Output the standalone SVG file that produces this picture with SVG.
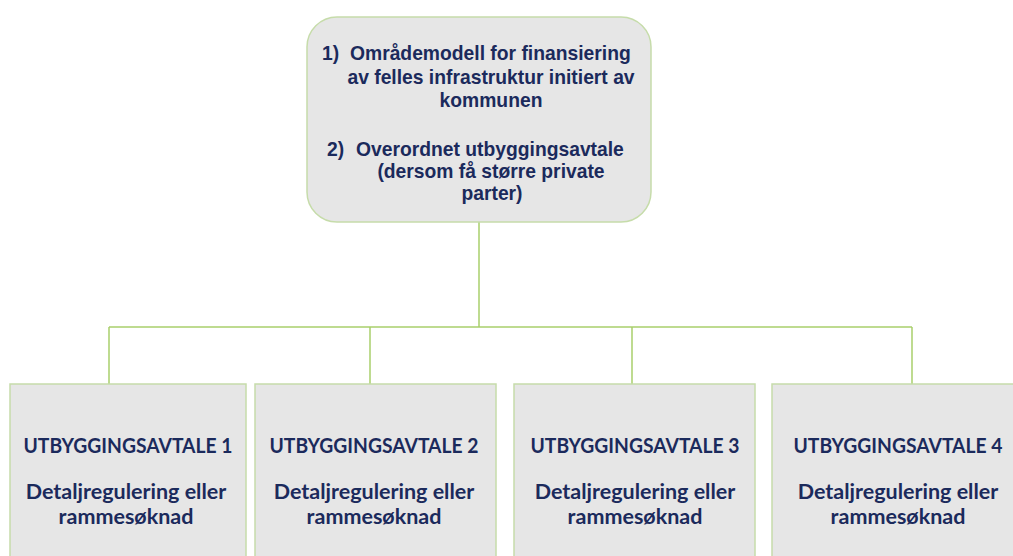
<svg xmlns="http://www.w3.org/2000/svg" width="1013" height="556" viewBox="0 0 1013 556">
<style>
.box{fill:#e6e6e6;stroke:#c6dcaa;stroke-width:1.5}
.conn{fill:none;stroke:#a9cf6c;stroke-width:1.5}
.top{font-family:"Liberation Sans",Arial,sans-serif;font-weight:bold;font-size:19.3px;fill:#1b2a5c}
.mid{text-anchor:middle}
.bt{font-family:Lato,"Open Sans",sans-serif;font-weight:bold;font-size:20.3px;fill:#1b2a5c;text-anchor:middle}
.bd{font-family:Lato,"Open Sans",sans-serif;font-weight:bold;font-size:21.5px;fill:#1b2a5c;text-anchor:middle}
</style>
<rect width="1013" height="556" fill="#ffffff"/>
<g id="connectors">
<path class="conn" d="M479 222V327M109 327H912M109 327V384M370 327V384M632 327V384M912 327V384"/>
</g>
<g id="top">
<rect class="box" x="307" y="17" width="344" height="205" rx="30"/>
<text class="top" y="60"><tspan x="322">1)</tspan><tspan x="350">Områdemodell for finansiering</tspan></text>
<text class="top mid" x="491" y="83.5">av felles infrastruktur initiert av</text>
<text class="top mid" x="491" y="107">kommunen</text>
<text class="top" y="156"><tspan x="327">2)</tspan><tspan x="356">Overordnet utbyggingsavtale</tspan></text>
<text class="top mid" x="491" y="178">(dersom få større private</text>
<text class="top mid" x="492" y="200">parter)</text>
</g>
<g id="n1">
<rect class="box" x="10" y="384" width="236" height="180"/>
<text class="bt" x="128" y="453" textLength="209" lengthAdjust="spacingAndGlyphs">UTBYGGINGSAVTALE 1</text>
<text class="bd" x="126" y="499">Detaljregulering eller</text>
<text class="bd" x="126" y="524">rammesøknad</text>
</g>
<g id="n2">
<rect class="box" x="255" y="384" width="241" height="180"/>
<text class="bt" x="374" y="453" textLength="209" lengthAdjust="spacingAndGlyphs">UTBYGGINGSAVTALE 2</text>
<text class="bd" x="374" y="499">Detaljregulering eller</text>
<text class="bd" x="374" y="524">rammesøknad</text>
</g>
<g id="n3">
<rect class="box" x="514" y="384" width="241" height="180"/>
<text class="bt" x="635" y="453" textLength="209" lengthAdjust="spacingAndGlyphs">UTBYGGINGSAVTALE 3</text>
<text class="bd" x="635" y="499">Detaljregulering eller</text>
<text class="bd" x="635" y="524">rammesøknad</text>
</g>
<g id="n4">
<rect class="box" x="772" y="384" width="252" height="180"/>
<text class="bt" x="898" y="453" textLength="209" lengthAdjust="spacingAndGlyphs">UTBYGGINGSAVTALE 4</text>
<text class="bd" x="898" y="499">Detaljregulering eller</text>
<text class="bd" x="898" y="524">rammesøknad</text>
</g>
</svg>
